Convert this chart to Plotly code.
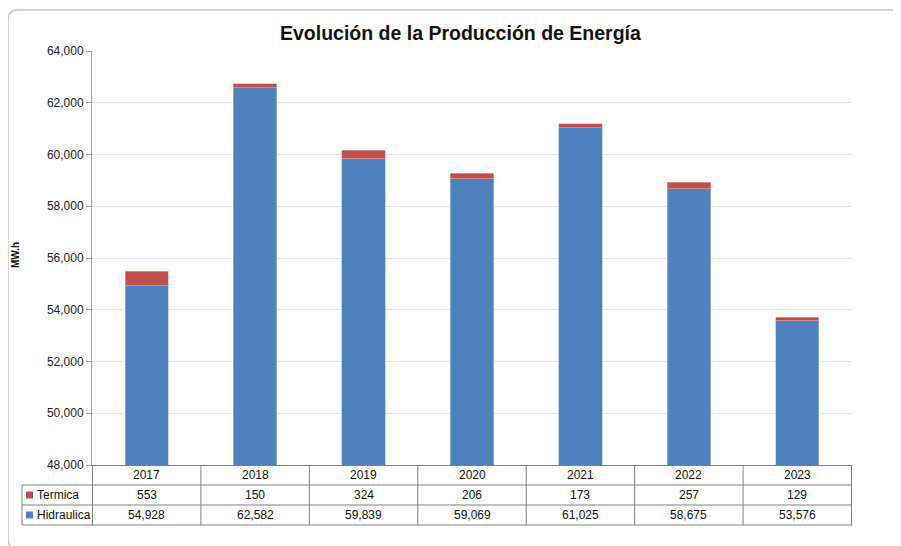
import plotly.graph_objects as go

years = ["2017", "2018", "2019", "2020", "2021", "2022", "2023"]
termica = [553, 150, 324, 206, 173, 257, 129]
hidraulica = [54928, 62582, 59839, 59069, 61025, 58675, 53576]
series_names = ["Termica", "Hidraulica"]
y_ticks = [48000, 50000, 52000, 54000, 56000, 58000, 60000, 62000, 64000]

blue = "#4F81BD"
red = "#C0504D"
grid_col = "#808080"
font_fam = "Liberation Sans, Arial, sans-serif"

# page body adds an 8px offset, margins compensate for it
OFF = 8
W, H = 901, 546
L, R, T, B = 92 - OFF, 49 + OFF, 51 - OFF, 81 + OFF
plot_w = W - L - R
plot_h = H - T - B
X0, Y1 = 92, 465  # plot area left / bottom on screen


def px_x(p):
    return (p - X0) / plot_w


def px_y(p):
    return (Y1 - p) / plot_h


fig = go.Figure()
fig.add_trace(go.Bar(x=years, y=hidraulica, name="Hidraulica", marker=dict(color=blue, line=dict(color="#a9c0de", width=0.6))))
fig.add_trace(go.Bar(x=years, y=termica, name="Termica", marker=dict(color=red, line=dict(color="#e0b0af", width=0.6))))

fig.update_layout(
    barmode="stack",
    bargap=0.6,
    width=W, height=H,
    margin=dict(l=L, r=R, t=T, b=B),
    plot_bgcolor="white", paper_bgcolor="white",
    showlegend=False,
    font=dict(family=font_fam, size=12, color="#222"),
    xaxis=dict(showticklabels=False, showline=True, linecolor=grid_col, ticks=""),
    yaxis=dict(range=[48000, 64000], tickvals=y_ticks, tickformat=",", showline=True,
               linecolor="#a0a0a0", ticks="outside", ticklen=5, tickcolor="#a0a0a0",
               gridcolor="#dce5f0", zeroline=False, tickfont=dict(size=12, color="#222")),
)

shapes = []
# outer rounded border (bottom edge falls just off the page)
x0, x1, y0, y1 = px_x(8), px_x(904), px_y(549), px_y(10)
rx, ry = 10 / plot_w, 10 / plot_h
path = (f"M {x0+rx},{y1} L {x1},{y1} M {x0+rx},{y1} Q {x0},{y1} {x0},{y1-ry} "
        f"L {x0},{y0+ry} Q {x0},{y0} {x0+rx},{y0} L {x1},{y0}")
shapes.append(dict(type="path", xref="paper", yref="paper", path=path,
                   line=dict(color="#c8c8c8", width=1.5)))

row_h = 20 / plot_h
n_rows = len(series_names)
# vertical lines between categories through header and data rows
for i in range(len(years) + 1):
    shapes.append(dict(type="line", xref="x", yref="paper", x0=i - 0.5, x1=i - 0.5,
                       y0=0, y1=-row_h * (n_rows + 1), line=dict(color=grid_col, width=1)))
# horizontal lines of data rows incl. legend column
for r in range(1, n_rows + 2):
    shapes.append(dict(type="line", xref="paper", yref="paper", x0=px_x(22), x1=1,
                       y0=-row_h * r, y1=-row_h * r, line=dict(color=grid_col, width=1)))
shapes.append(dict(type="line", xref="paper", yref="paper", x0=px_x(22), x1=px_x(22),
                   y0=-row_h, y1=-row_h * (n_rows + 1), line=dict(color=grid_col, width=1)))

annotations = []
annotations.append(dict(text="<b>Evolución de la Producción de Energía</b>", xref="paper", yref="paper",
                        x=px_x(460), y=px_y(33), xanchor="center", yanchor="middle",
                        showarrow=False, font=dict(size=19.5, color="#111")))
annotations.append(dict(text="<b>MW.h</b>", xref="paper", yref="paper", x=px_x(15), y=px_y(255),
                        xanchor="center", yanchor="middle",
                        textangle=-90, showarrow=False, font=dict(size=10, color="#111")))

rows = [years, [f"{v:,}" for v in termica], [f"{v:,}" for v in hidraulica]]
for r, vals in enumerate(rows):
    for i, v in enumerate(vals):
        annotations.append(dict(text=v, xref="x", yref="paper", x=i, y=-row_h * (r + 0.5),
                                xanchor="center", yanchor="middle",
                                showarrow=False, font=dict(size=12, color="#111")))

for r, (name, col) in enumerate(zip(series_names, [red, blue])):
    yc = -row_h * (r + 1.5)
    shapes.append(dict(type="rect", xref="paper", yref="paper", x0=px_x(26), x1=px_x(33),
                       y0=yc - 3.5 / plot_h, y1=yc + 3.5 / plot_h, fillcolor=col, line=dict(width=0)))
    annotations.append(dict(text=name, xref="paper", yref="paper", x=px_x(35), y=yc,
                            xanchor="left", yanchor="middle",
                            showarrow=False, font=dict(size=12, color="#111")))

fig.update_layout(shapes=shapes, annotations=annotations)
fig.write_html("out.html")
